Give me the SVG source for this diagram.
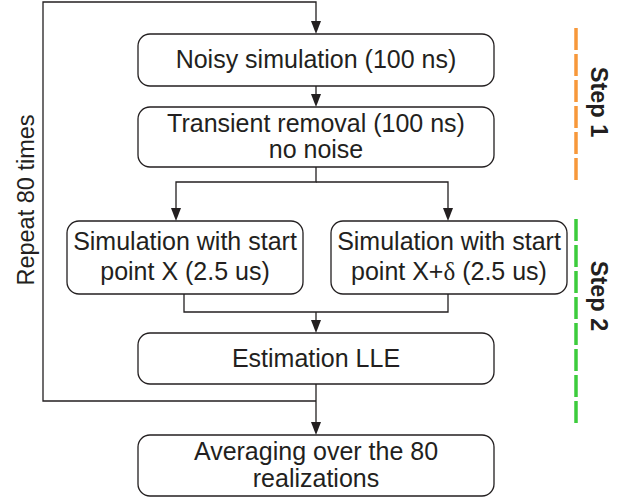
<svg xmlns="http://www.w3.org/2000/svg" width="625" height="499" viewBox="0 0 625 499">
<defs>
<style>
.box{fill:#fff;stroke:#231f20;stroke-width:1.3}
.t{font-family:"Liberation Sans",Arial,sans-serif;font-size:25px;fill:#231f20;text-anchor:middle}
.r{font-family:"Liberation Sans",Arial,sans-serif;font-size:23.5px;fill:#231f20;text-anchor:middle}
.b{font-family:"Liberation Sans",Arial,sans-serif;font-size:23.5px;font-weight:bold;fill:#231f20;text-anchor:middle}
.s{font-family:"Liberation Serif","Times New Roman",serif}
.c{fill:none;stroke:#231f20;stroke-width:1.3}
.ah{fill:#231f20}
</style>
</defs>
<rect width="625" height="499" fill="#fff"/>
<g id="connectors">
<polyline class="c" points="316,401 43,401 43,2 316,2 316,21"/>
<path class="ah" d="M311,21 L321,21 L316,34 Z"/>
<line class="c" x1="316" y1="86" x2="316" y2="94"/>
<path class="ah" d="M311,94 L321,94 L316,107 Z"/>
<polyline class="c" points="316,167 316,182 176,182 176,208"/>
<path class="ah" d="M171,208 L181,208 L176,221 Z"/>
<polyline class="c" points="316,182 448,182 448,208"/>
<path class="ah" d="M443,208 L453,208 L448,221 Z"/>
<polyline class="c" points="184,294 184,312 448,312 448,294"/>
<line class="c" x1="316" y1="312" x2="316" y2="320"/>
<path class="ah" d="M311,320 L321,320 L316,333 Z"/>
<line class="c" x1="316" y1="384" x2="316" y2="422"/>
<path class="ah" d="M311,422 L321,422 L316,435 Z"/>
</g>
<g id="n1"><rect class="box" x="138" y="34" width="356" height="52" rx="12"/><text class="t" x="316" y="68">Noisy simulation (100 ns)</text></g>
<g id="n2"><rect class="box" x="138" y="107" width="356" height="60" rx="12"/><text class="t" x="316" y="132">Transient removal (100 ns)</text><text class="t" x="316" y="158">no noise</text></g>
<g id="n3"><rect class="box" x="67" y="221" width="236" height="73" rx="12"/><text class="t" x="185" y="250">Simulation with start</text><text class="t" x="185" y="280">point X (2.5 us)</text></g>
<g id="n4"><rect class="box" x="331" y="221" width="236" height="73" rx="12"/><text class="t" x="449" y="250">Simulation with start</text><text class="t" x="449" y="280">point X+<tspan class="s">δ</tspan> (2.5 us)</text></g>
<g id="n5"><rect class="box" x="138" y="333" width="356" height="51" rx="12"/><text class="t" x="316" y="367">Estimation LLE</text></g>
<g id="n6"><rect class="box" x="138" y="435" width="356" height="61" rx="12"/><text class="t" x="316" y="460">Averaging over the 80</text><text class="t" x="316" y="487">realizations</text></g>
<g id="labels">
<text class="r" transform="translate(34,200) rotate(-90)">Repeat 80 times</text>
<line x1="576" y1="28" x2="576" y2="182" stroke="#f7983a" stroke-width="3.5" stroke-dasharray="22,4"/>
<line x1="576" y1="219" x2="576" y2="426" stroke="#3ccc3c" stroke-width="3.5" stroke-dasharray="22,4"/>
<text class="b" transform="translate(591,102) rotate(90)">Step 1</text>
<text class="b" transform="translate(591,296) rotate(90)">Step 2</text>
</g>
</svg>
